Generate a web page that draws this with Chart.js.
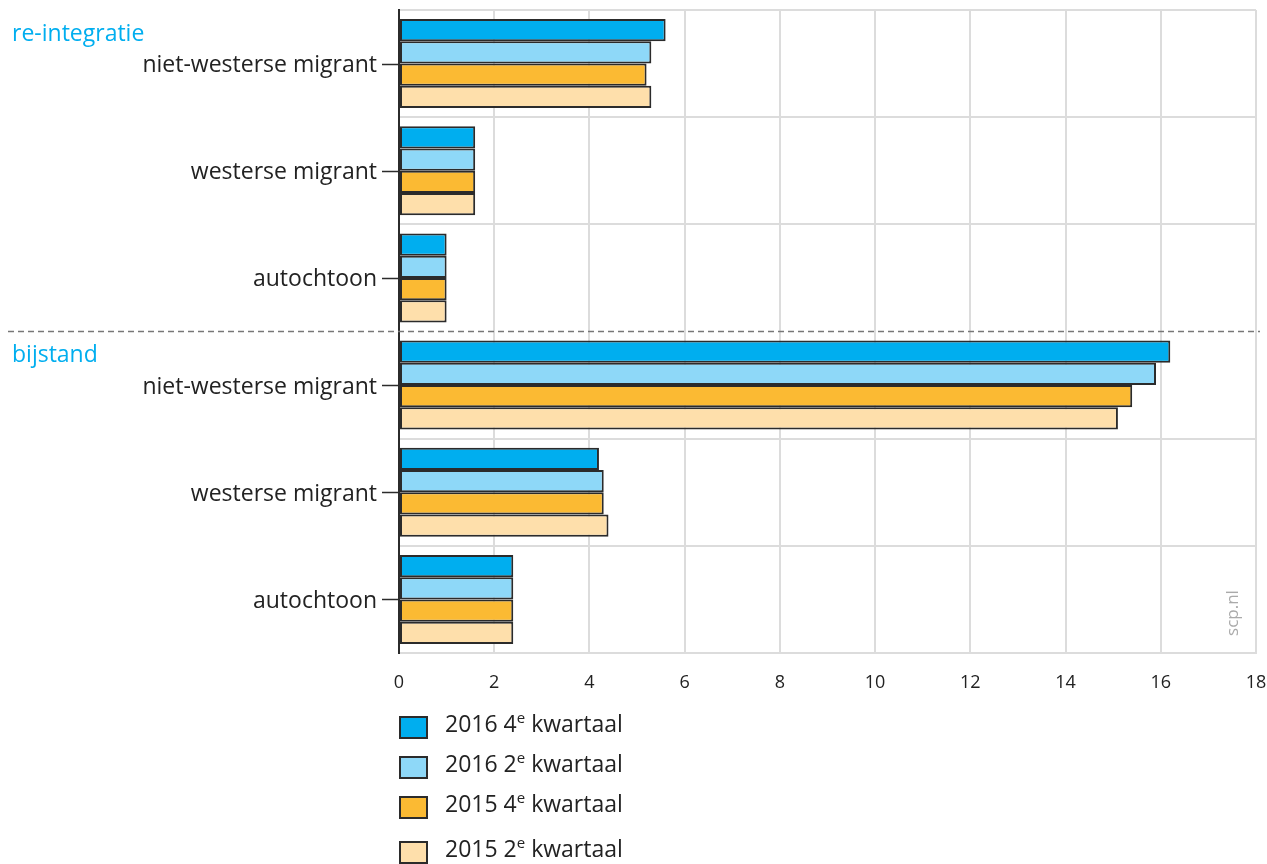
<!DOCTYPE html>
<html>
<head>
<meta charset="utf-8">
<script src="https://cdn.jsdelivr.net/npm/chart.js@4"></script>
<style>
    body { margin: 0; background: #fff; font-family: 'Open Sans', sans-serif; }
    #wrap { position: relative; width: 1267px; height: 864px; }
    #legend { position: absolute; left: 399px; top: 712px; }
    .item { position: relative; height: 40px; font-size: 23px; color: #222; }
    .item .box { position: absolute; left: 0; top: 4px; width: 25px; height: 19px; border: 2px solid #2b2b2b; box-sizing: content-box; }
    .item .txt { position: absolute; left: 46px; top: -5px; white-space: nowrap; }
    .item sup { font-size: 15px; vertical-align: 0; position: relative; top: -9px; }
</style>
</head>
<body>
<div id="wrap">
    <canvas id="chart" width="1267" height="864"></canvas>
    <div id="legend"></div>
</div>
<script>
// Data
const categories = ['niet-westerse migrant', 'westerse migrant', 'autochtoon',
                    'niet-westerse migrant', 'westerse migrant', 'autochtoon'];
const groupLabels = ['re-integratie', 'bijstand'];
const seriesNames = ['2016 4e kwartaal', '2016 2e kwartaal', '2015 4e kwartaal', '2015 2e kwartaal'];
const q4_2016 = [5.6, 1.6, 1.0, 16.2, 4.2, 2.4];
const q2_2016 = [5.3, 1.6, 1.0, 15.9, 4.3, 2.4];
const q4_2015 = [5.2, 1.6, 1.0, 15.4, 4.3, 2.4];
const q2_2015 = [5.3, 1.6, 1.0, 15.1, 4.4, 2.4];
const xTicks = [0, 2, 4, 6, 8, 10, 12, 14, 16, 18];

const colors = ['#00aeef', '#8ed8f8', '#fbba33', '#fedfab'];
const values = [q4_2016, q2_2016, q4_2015, q2_2015];

// Extra drawing: tick marks at category centres, dashed separator, group labels, source
const extrasPlugin = {
    id: 'extras',
    afterDraw(chart) {
        const ctx = chart.ctx;
        const y = chart.scales.y;
        const area = chart.chartArea;
        ctx.save();
        ctx.strokeStyle = '#2b2b2b';
        ctx.lineWidth = 1.5;
        categories.forEach((c, i) => {
            const py = Math.round(y.getPixelForValue(i)) + 0.5;
            ctx.beginPath();
            ctx.moveTo(area.left - 17, py);
            ctx.lineTo(area.left, py);
            ctx.stroke();
        });
        // dashed separator between the groups
        const sep = (y.getPixelForValue(2) + y.getPixelForValue(3)) / 2;
        ctx.strokeStyle = '#777';
        ctx.setLineDash([6, 4]);
        ctx.beginPath();
        ctx.moveTo(8, sep);
        ctx.lineTo(1260, sep);
        ctx.stroke();
        ctx.setLineDash([]);
        // group labels
        ctx.fillStyle = '#00aeef';
        ctx.font = '23px "Open Sans"';
        ctx.textBaseline = 'middle';
        ctx.textAlign = 'left';
        ctx.fillText(groupLabels[0], 12, area.top + 24);
        ctx.fillText(groupLabels[1], 12, sep + 24);
        // source
        ctx.fillStyle = '#aaa';
        ctx.font = '17px "Open Sans"';
        ctx.translate(1233, 613);
        ctx.rotate(-Math.PI / 2);
        ctx.textAlign = 'center';
        ctx.fillText('scp.nl', 0, 0);
        ctx.restore();
    }
};

function noPadding(scale) {
    scale.paddingTop = 0;
    scale.paddingBottom = 0;
    scale.paddingLeft = 0;
    scale.paddingRight = 0;
}

const ctx = document.getElementById('chart').getContext('2d');
const chart = new Chart(ctx, {
    type: 'bar',
    data: {
        labels: categories,
        datasets: seriesNames.map((name, i) => ({
            label: name,
            data: values[i],
            backgroundColor: colors[i],
            borderColor: '#2b2b2b',
            borderWidth: 2,
            borderSkipped: false,
            barPercentage: 1.0,
            categoryPercentage: 0.83
        }))
    },
    options: {
        indexAxis: 'y',
        responsive: false,
        animation: false,
        layout: { autoPadding: false, padding: { top: 10, right: 11, left: 0, bottom: 0 } },
        plugins: {
            legend: { display: false },
            tooltip: { enabled: false }
        },
        scales: {
            x: {
                min: 0,
                max: 18,
                afterBuildTicks: (scale) => { scale.ticks = xTicks.map(v => ({ value: v })); },
                afterFit: (scale) => { scale.height = 211; noPadding(scale); },
                grid: { color: '#dcdcdc', lineWidth: 2, drawTicks: false },
                border: { color: '#dcdcdc', width: 2 },
                ticks: {
                    padding: 19,
                    color: '#222',
                    font: { family: 'Open Sans', size: 18 }
                }
            },
            y: {
                afterFit: (scale) => { scale.width = 399; noPadding(scale); },
                grid: {
                    offset: true,
                    drawTicks: false,
                    lineWidth: 2,
                    color: (c) => c.index === 3 ? 'rgba(0,0,0,0)' : '#dcdcdc'
                },
                border: { color: '#2b2b2b', width: 2 },
                ticks: {
                    padding: 22,
                    labelOffset: 2,
                    color: '#222',
                    font: { family: 'Open Sans', size: 23 }
                }
            }
        }
    },
    plugins: [extrasPlugin]
});

// HTML legend with superscripts
const legend = document.getElementById('legend');
seriesNames.forEach((name, i) => {
    const parts = name.split(' ');
    const item = document.createElement('div');
    item.className = 'item';
    if (i === 3) item.style.marginTop = '5px';
    item.innerHTML = '<span class="box" style="background:' + colors[i] + '"></span>' +
        '<span class="txt">' + parts[0] + ' ' + parts[1].replace('e', '<sup>e</sup>') + ' ' + parts[2] + '</span>';
    legend.appendChild(item);
});
</script>
</body>
</html>
